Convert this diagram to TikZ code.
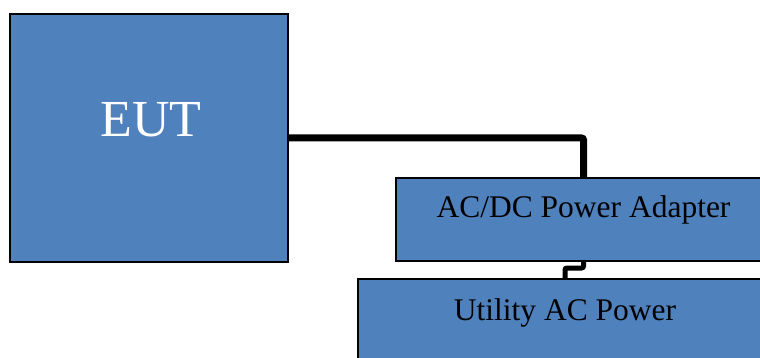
\documentclass[tikz,border=0pt]{standalone}
\usepackage{fontspec}
\setmainfont{Liberation Serif}
\definecolor{boxblue}{HTML}{4F81BD}
\begin{document}
\begin{tikzpicture}[x=1pt,y=-1pt,
  box/.style={draw=black, line width=2pt, fill=boxblue, inner sep=0pt},
  lbl/.style={anchor=base, inner sep=0pt, font=\fontsize{31.5}{36}\selectfont},
  cable/.style={draw=black, line width=7pt, rounded corners=2pt}]
\useasboundingbox (0,0) rectangle (760,358);
\clip (0,0) rectangle (760,358);
\node[box, minimum width=278pt, minimum height=248pt] (eut) at (149,138) {};
\node[box, minimum width=375pt, minimum height=83pt] (adapter) at (583.5,219.5) {};
\node[box, minimum width=414pt, minimum height=100pt] (utility) at (565,329) {};
\node[lbl, white, font=\fontsize{52}{60}\selectfont] (eutlbl) at (151,137) {EUT};
\node[lbl] (adlbl) at (583.5,218) {AC/DC Power Adapter};
\node[lbl] (utlbl) at (565,320) {Utility AC Power};
\draw[cable] (eut.east) -| (adapter.north);
\draw[cable, line width=5pt] (adapter.south) -- ++(0,6) -| (utility.north);
\end{tikzpicture}
\end{document}
